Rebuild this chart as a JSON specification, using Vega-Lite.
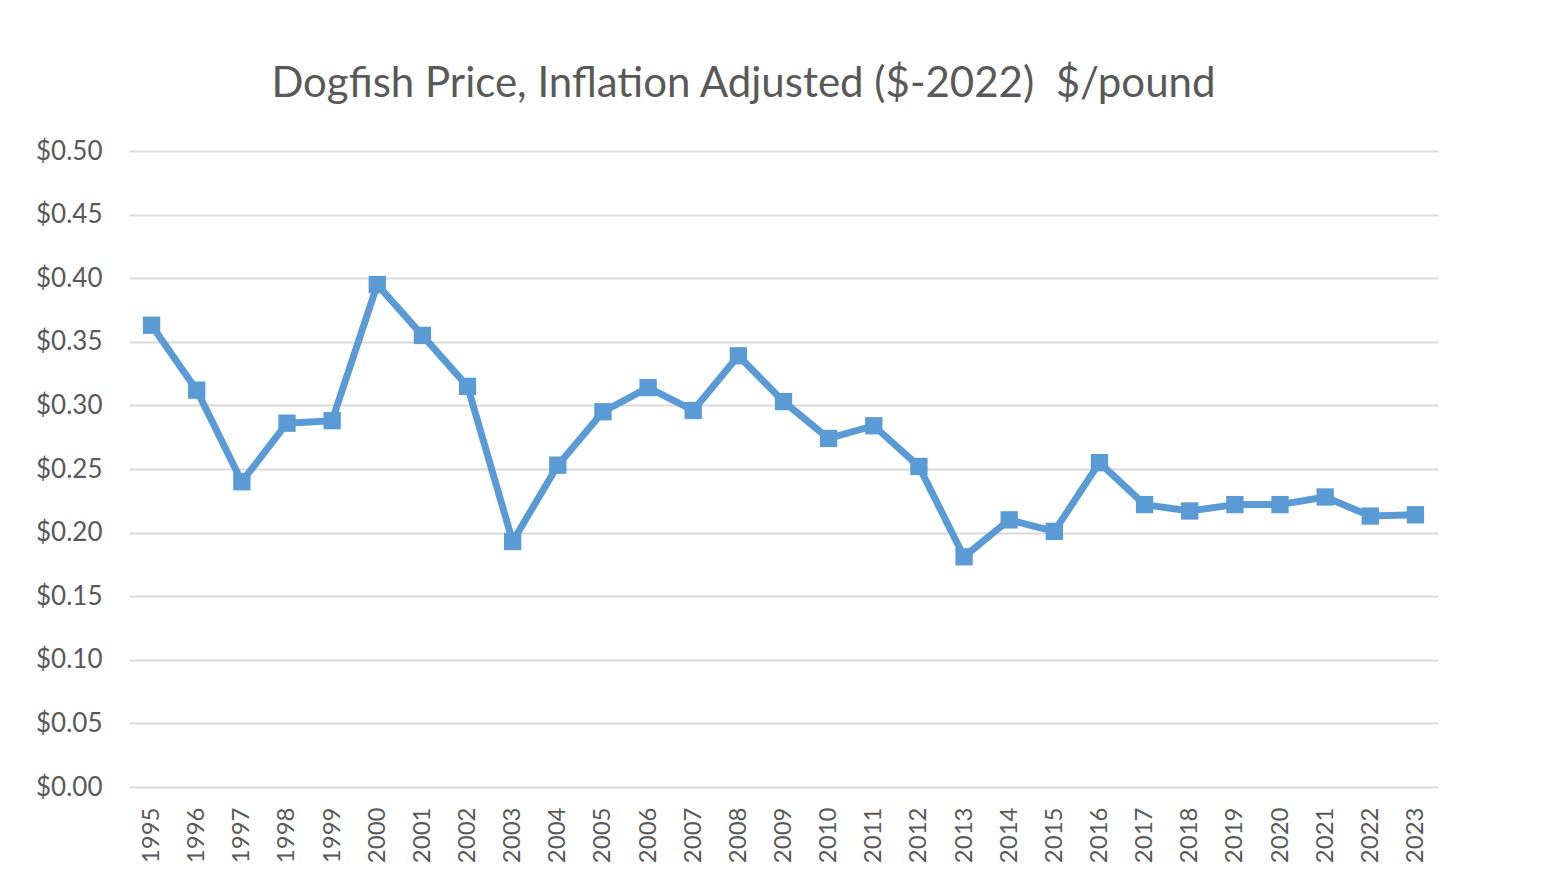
{
  "$schema": "https://vega.github.io/schema/vega-lite/v6.json",
  "width": 1309,
  "height": 636,
  "autosize": {"type": "none"},
  "padding": {"left": 129, "top": 151, "right": 106, "bottom": 97},
  "background": "white",
  "title": {
    "text": "Dogfish Price, Inflation Adjusted ($-2022)\u00a0 $/pound",
    "anchor": "middle",
    "frame": "group",
    "dx": -40,
    "offset": 32,
    "font": "Lato",
    "fontSize": 42,
    "fontWeight": "normal",
    "color": "#595959"
  },
  "data": {
    "values": [
      {"year": "1995", "price": 0.363},
      {"year": "1996", "price": 0.312},
      {"year": "1997", "price": 0.240},
      {"year": "1998", "price": 0.286},
      {"year": "1999", "price": 0.288},
      {"year": "2000", "price": 0.395},
      {"year": "2001", "price": 0.355},
      {"year": "2002", "price": 0.315},
      {"year": "2003", "price": 0.193},
      {"year": "2004", "price": 0.253},
      {"year": "2005", "price": 0.295},
      {"year": "2006", "price": 0.314},
      {"year": "2007", "price": 0.296},
      {"year": "2008", "price": 0.339},
      {"year": "2009", "price": 0.303},
      {"year": "2010", "price": 0.274},
      {"year": "2011", "price": 0.284},
      {"year": "2012", "price": 0.252},
      {"year": "2013", "price": 0.181},
      {"year": "2014", "price": 0.210},
      {"year": "2015", "price": 0.201},
      {"year": "2016", "price": 0.255},
      {"year": "2017", "price": 0.222},
      {"year": "2018", "price": 0.217},
      {"year": "2019", "price": 0.222},
      {"year": "2020", "price": 0.222},
      {"year": "2021", "price": 0.228},
      {"year": "2022", "price": 0.213},
      {"year": "2023", "price": 0.214}
    ]
  },
  "encoding": {
    "x": {
      "field": "year",
      "type": "ordinal",
      "scale": {"type": "point", "padding": 0.5},
      "axis": {
        "title": null,
        "labelAngle": -90,
        "labelAlign": "right",
        "labelBaseline": "middle",
        "labelFont": "Lato",
        "labelFontSize": 24,
        "labelColor": "#595959",
        "labelPadding": 20,
        "ticks": false,
        "domain": false,
        "grid": false
      }
    },
    "y": {
      "field": "price",
      "type": "quantitative",
      "scale": {"domain": [0, 0.5], "nice": false, "zero": true},
      "axis": {
        "title": null,
        "values": [0, 0.05, 0.1, 0.15, 0.2, 0.25, 0.3, 0.35, 0.4, 0.45, 0.5],
        "format": "$.2f",
        "labelFont": "Lato",
        "labelFontSize": 26,
        "labelColor": "#595959",
        "labelPadding": 27,
        "ticks": false,
        "domain": false,
        "grid": true,
        "gridColor": "#d9d9d9",
        "gridWidth": 2,
        "gridOpacity": 1
      }
    }
  },
  "layer": [
    {"mark": {"type": "line", "color": "#5B9BD5", "strokeWidth": 7, "strokeJoin": "round"}},
    {"mark": {"type": "point", "shape": "square", "filled": true, "size": 300, "color": "#5B9BD5", "opacity": 1}}
  ],
  "config": {"view": {"stroke": null}}
}
